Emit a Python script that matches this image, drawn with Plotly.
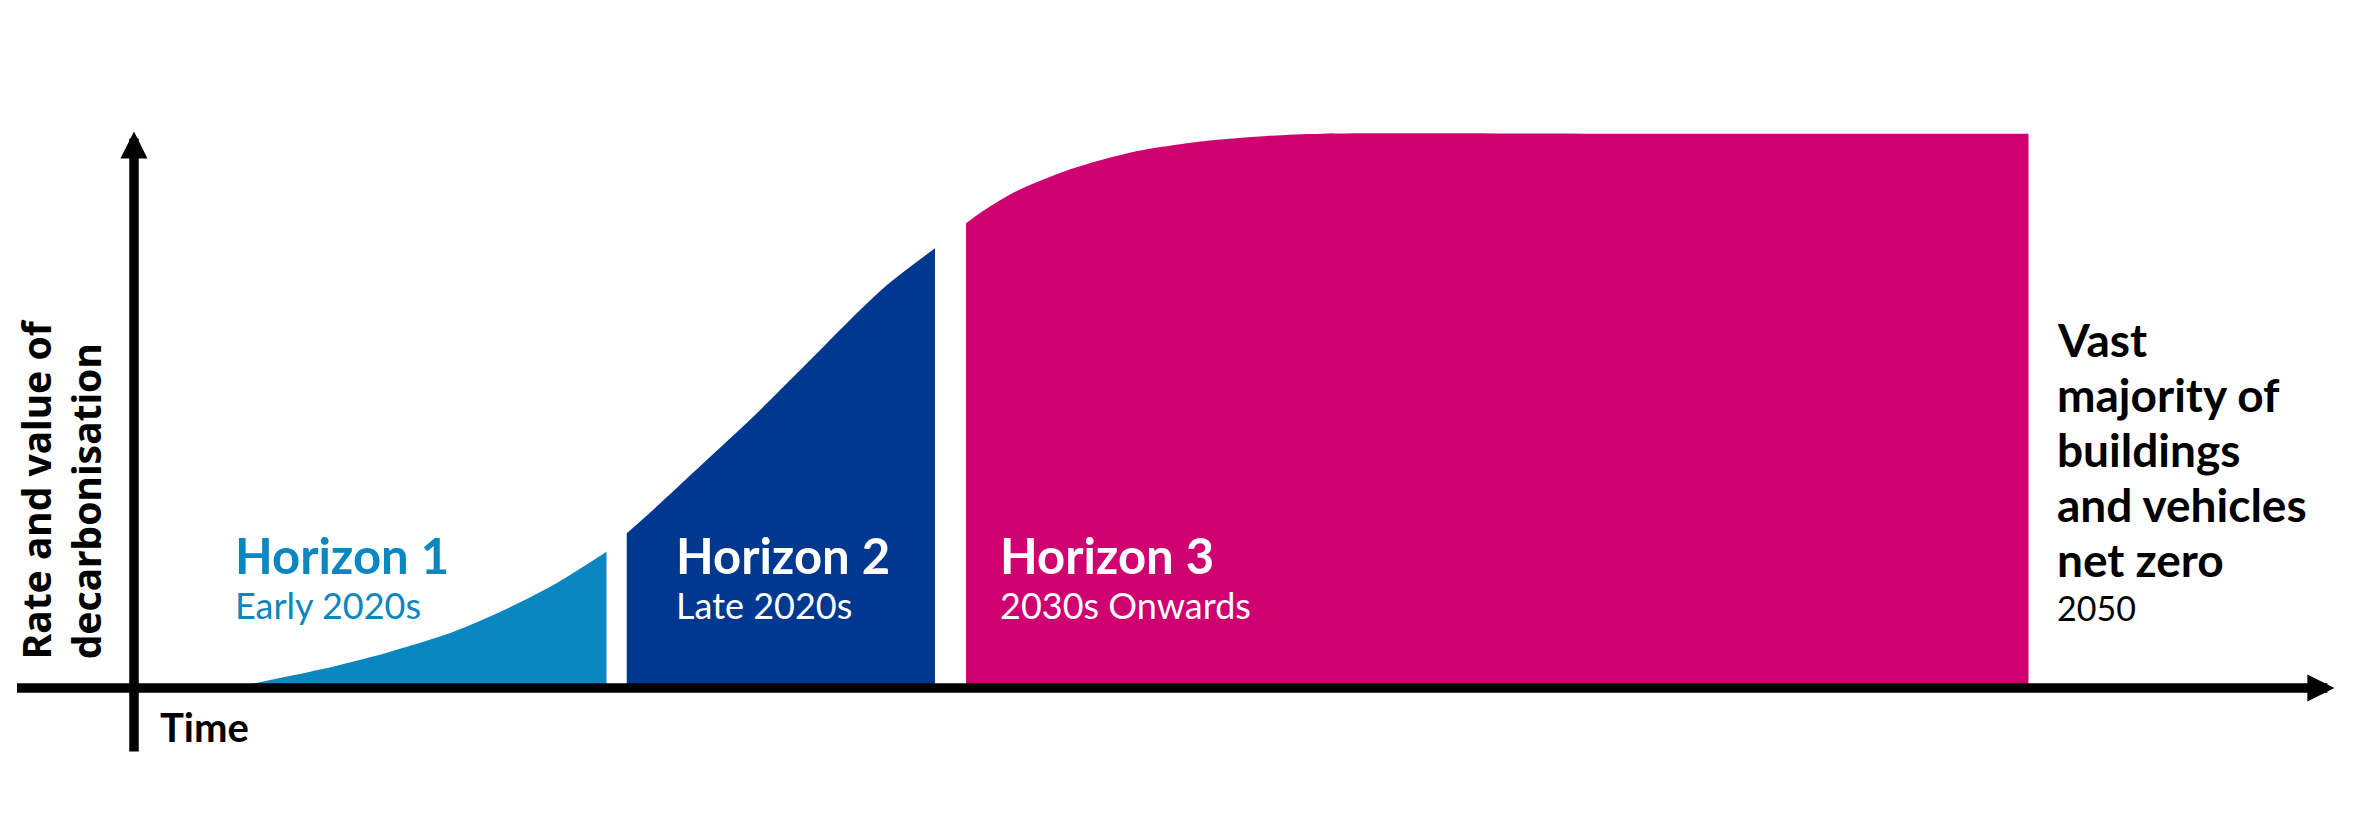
import plotly.graph_objects as go

# time on the x axis (arbitrary units), rate/value of decarbonisation 0-100 on the y axis
h1_time = [6.5, 12.4, 16.8, 21.3, 24.6, 27.95, 31.5]
h1_value = [0, 3.3, 6.3, 10.1, 13.9, 18.5, 24.5]

h2_time = [32.85, 34.6, 37.95, 41.3, 44.85, 47.5, 50.2, 53.4]
h2_value = [27.8, 32.0, 40.4, 48.8, 58.3, 65.5, 72.4, 79.0]

h3_time = [55.47, 56.6, 58.85, 62.2, 66.6, 71.1, 75.5, 79.3, 100.0, 126.3]
h3_value = [83.5, 85.7, 89.3, 93.0, 96.3, 98.2, 99.2, 99.6, 99.6, 99.6]

horizon_titles = ["Horizon 1", "Horizon 2", "Horizon 3"]
horizon_periods = ["Early 2020s", "Late 2020s", "2030s Onwards"]
horizon_colors = ["#0A86C0", "#00388F", "#CF006F"]
label_colors = ["#0A86C0", "#FFFFFF", "#FFFFFF"]
label_x = [6.6, 36.0, 57.6]

end_lines = ["Vast", "majority of", "buildings", "and vehicles", "net zero"]
end_year = "2050"

FONT = "Lato"

fig = go.Figure()

for t, v, c in zip([h1_time, h2_time, h3_time], [h1_value, h2_value, h3_value], horizon_colors):
    fig.add_trace(go.Scatter(
        x=t, y=v, mode="lines", fill="tozeroy", fillcolor=c,
        line=dict(width=0, color=c, shape="spline", smoothing=0.8),
        hoverinfo="skip", showlegend=False,
    ))

# horizon labels
for i in range(3):
    fig.add_annotation(x=label_x[i], y=23.9, text="<b>" + horizon_titles[i] + "</b>",
                       showarrow=False, xanchor="left", yanchor="middle",
                       font=dict(family=FONT, size=49, color=label_colors[i]))
    fig.add_annotation(x=label_x[i], y=15.0, text=horizon_periods[i],
                       showarrow=False, xanchor="left", yanchor="middle",
                       font=dict(family=FONT, size=36, color=label_colors[i]))

# end-state text on the right
line_y = [62.6, 52.7, 42.8, 32.9, 23.0]
for txt, yy in zip(end_lines, line_y):
    fig.add_annotation(x=128.1, y=yy, text="<b>" + txt + "</b>", showarrow=False,
                       xanchor="left", yanchor="middle",
                       font=dict(family=FONT, size=46, color="black"))
fig.add_annotation(x=128.1, y=14.4, text=end_year, showarrow=False,
                   xanchor="left", yanchor="middle",
                   font=dict(family=FONT, size=34, color="black"))

# axes drawn as arrows
fig.add_annotation(x=0, y=100, ax=0, ay=-11.7, xref="x", yref="y", axref="x", ayref="y",
                   text="", showarrow=True, arrowhead=2, arrowsize=0.57, arrowwidth=9.5,
                   arrowcolor="black")
fig.add_annotation(x=146.7, y=0, ax=-7.9, ay=0, xref="x", yref="y", axref="x", ayref="y",
                   text="", showarrow=True, arrowhead=2, arrowsize=0.57, arrowwidth=9.5,
                   arrowcolor="black")

fig.add_annotation(x=1.6, y=-7.1, text="<b>Time</b>", showarrow=False,
                   xanchor="left", yanchor="middle",
                   font=dict(family=FONT, size=40, color="black"))

fig.add_annotation(x=-4.9, y=4.7, text="<b>Rate and value of<br>decarbonisation</b>",
                   showarrow=False, textangle=-90, align="left",
                   xanchor="center", yanchor="bottom",
                   font=dict(family="Noto Sans", size=39, color="black"))

fig.update_layout(
    width=2365, height=826,
    margin=dict(l=0, r=0, t=0, b=0),
    paper_bgcolor="white", plot_bgcolor="white",
    xaxis=dict(range=[-8.4, 149.27], visible=False, fixedrange=True),
    yaxis=dict(range=[-26.24, 122.19], visible=False, fixedrange=True),
)

fig.write_html("out.html")
